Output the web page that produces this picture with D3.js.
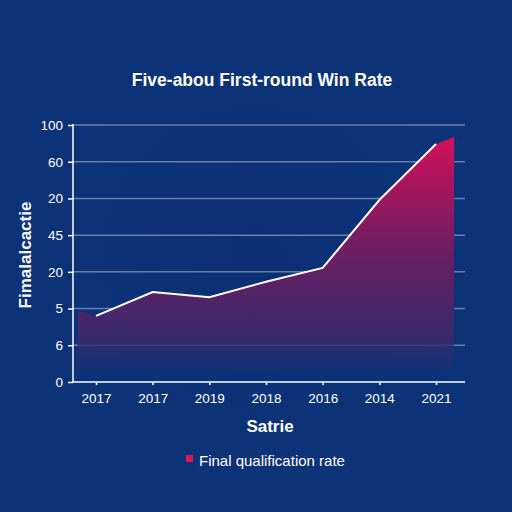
<!DOCTYPE html>
<html lang="en">
<head>
  <meta charset="UTF-8">
  <title>Five-abou First-round Win Rate</title>
  <style>
    body { margin: 0; background: #0b3174; }
    text { font-family: "Liberation Sans", Arial, sans-serif; fill: #fff; }
  </style>
</head>
<body>
  <svg id="svg" width="512" height="512"></svg>

  <script src="https://d3js.org/d3.v7.min.js"></script>
  <script>
    // categories along the x axis (as printed)
    const years = ['2017', '2017', '2019', '2018', '2016', '2014', '2021']
    // y tick labels, bottom to top (as printed)
    const yTickLabels = ['0', '6', '5', '20', '45', '20', '60', '100']
    // white line values (0-100 scale)
    const lineValues = [25.7, 35, 33, 39, 44.4, 70.8, 92.6]
    // filled area: index positions and values (extends slightly past the line)
    const areaIndex = [-0.32, 0, 1, 2, 3, 4, 5, 6, 6.32]
    const areaValues = [28, 25.7, 35, 33, 39, 44.4, 70.8, 92.6, 95.3]
    const areaBase = 4.5

    const svg = d3.select('#svg')
    const W = 512, H = 512

    const defs = svg.append('defs')
    const bgGrad = defs.append('radialGradient').attr('id', 'bg')
      .attr('cx', '50%').attr('cy', '50%').attr('r', '75%')
    bgGrad.append('stop').attr('offset', '0%').attr('stop-color', '#0a2f74')
    bgGrad.append('stop').attr('offset', '100%').attr('stop-color', '#0d357b')

    const areaGrad = defs.append('linearGradient').attr('id', 'areaGrad')
      .attr('gradientUnits', 'userSpaceOnUse')
      .attr('x1', 0).attr('y1', 135).attr('x2', 0).attr('y2', 372)
    areaGrad.append('stop').attr('offset', '0%').attr('stop-color', '#d4105a')
    areaGrad.append('stop').attr('offset', '50%').attr('stop-color', '#6a1e62')
    areaGrad.append('stop').attr('offset', '85%').attr('stop-color', '#3a2a6c')
    areaGrad.append('stop').attr('offset', '100%').attr('stop-color', '#2a2c70').attr('stop-opacity', 0.2)

    svg.append('rect').attr('width', W).attr('height', H).attr('fill', 'url(#bg)')

    const plot = { left: 73, right: 465, top: 125, bottom: 382 }

    const x = d3.scaleLinear().domain([0, years.length - 1]).range([96, 436])
    const y = d3.scaleLinear().domain([0, 100]).range([plot.bottom, plot.top])
    const tickVals = yTickLabels.map((d, i) => i * 100 / (yTickLabels.length - 1))

    // gridlines
    svg.append('g')
      .selectAll('line')
      .data(tickVals.slice(1))
      .enter()
      .append('line')
      .attr('x1', plot.left).attr('x2', plot.right)
      .attr('y1', d => y(d)).attr('y2', d => y(d))
      .attr('stroke', 'rgba(255,255,255,0.38)')
      .attr('stroke-width', 1.5)

    // area
    const area = d3.area()
      .x(d => x(d[0]))
      .y0(y(areaBase))
      .y1(d => y(d[1]))
    svg.append('path')
      .datum(areaIndex.map((d, i) => [d, areaValues[i]]))
      .attr('d', area)
      .attr('fill', 'url(#areaGrad)')

    // line
    const line = d3.line()
      .x((d, i) => x(i))
      .y(d => y(d))
    svg.append('path')
      .datum(lineValues)
      .attr('d', line)
      .attr('fill', 'none')
      .attr('stroke', '#fff')
      .attr('stroke-width', 2)

    // y axis
    const yAxis = d3.axisLeft(y)
      .tickValues(tickVals)
      .tickFormat((d, i) => yTickLabels[i])
      .tickSize(5)
      .tickPadding(5)
    const gy = svg.append('g').attr('transform', `translate(${plot.left},0)`).call(yAxis)
    gy.select('.domain').remove()
    gy.selectAll('line').attr('stroke', '#fff').attr('stroke-width', 1.5)
    gy.selectAll('text').attr('font-size', 13.5).attr('fill', '#fff')
      .style('font-family', '"Liberation Sans", Arial, sans-serif')
    svg.append('line')
      .attr('x1', plot.left).attr('x2', plot.left).attr('y1', plot.top - 1).attr('y2', plot.bottom)
      .attr('stroke', '#fff').attr('stroke-width', 1.5)

    // x axis
    const xAxis = d3.axisBottom(x)
      .tickValues(d3.range(years.length))
      .tickFormat(i => years[i])
      .tickSize(3)
      .tickPadding(8)
    const gx = svg.append('g').attr('transform', `translate(0,${plot.bottom})`).call(xAxis)
    gx.select('.domain').remove()
    gx.selectAll('line').attr('stroke', '#fff').attr('stroke-width', 1.5)
    gx.selectAll('text').attr('font-size', 13.5).attr('fill', '#fff')
      .style('font-family', '"Liberation Sans", Arial, sans-serif')
    svg.append('line')
      .attr('x1', plot.left).attr('x2', plot.right).attr('y1', plot.bottom).attr('y2', plot.bottom)
      .attr('stroke', '#fff').attr('stroke-width', 1.5)

    // title
    svg.append('text')
      .attr('x', 262).attr('y', 86)
      .attr('text-anchor', 'middle')
      .attr('font-size', 17.5).attr('font-weight', 'bold')
      .text('Five-abou First-round Win Rate')

    // axis titles
    svg.append('text')
      .attr('x', 270).attr('y', 432)
      .attr('text-anchor', 'middle')
      .attr('font-size', 17).attr('font-weight', 'bold')
      .text('Satrie')

    svg.append('text')
      .attr('transform', 'translate(31,255) rotate(-90)')
      .attr('text-anchor', 'middle')
      .attr('font-size', 17).attr('font-weight', 'bold')
      .text('Fimalalcactie')

    // legend
    svg.append('rect')
      .attr('x', 186).attr('y', 455).attr('width', 7).attr('height', 7)
      .attr('fill', '#e0145a')
    svg.append('text')
      .attr('x', 199).attr('y', 466)
      .attr('font-size', 15)
      .text('Final qualification rate')
  </script>
</body>
</html>
